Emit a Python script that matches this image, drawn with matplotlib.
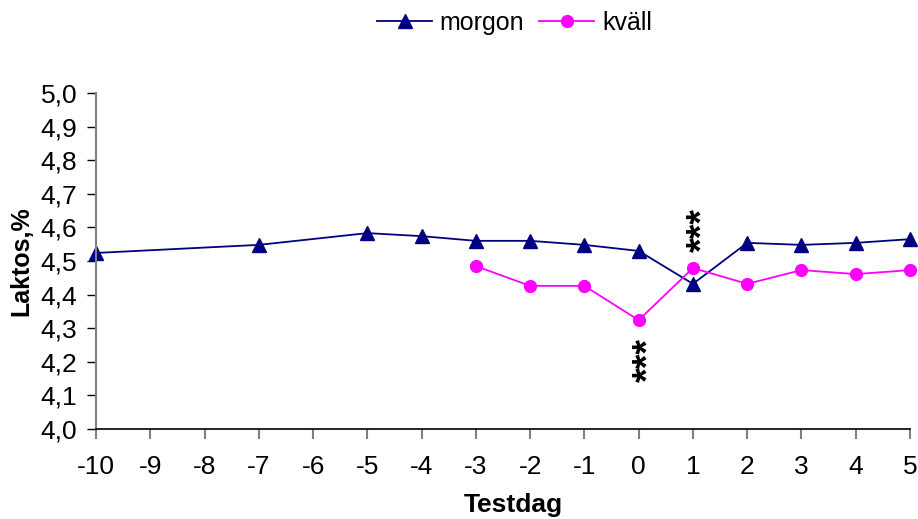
import matplotlib.pyplot as plt
from matplotlib.ticker import FuncFormatter

plt.rcParams["font.family"] = ["Liberation Sans", "DejaVu Sans"]
plt.rcParams["axes.unicode_minus"] = False

days_morgon = [-10, -7, -5, -4, -3, -2, -1, 0, 1, 2, 3, 4, 5]
morgon = [4.524, 4.548, 4.583, 4.574, 4.56, 4.56, 4.548, 4.53, 4.432, 4.554, 4.548, 4.554, 4.565]
days_kvall = [-3, -2, -1, 0, 1, 2, 3, 4, 5]
kvall = [4.485, 4.426, 4.426, 4.324, 4.479, 4.432, 4.473, 4.461, 4.473]

# significance marks: (day, y-centre)
stars = [(0, 4.205), (1, 4.592)]


def main():
    fig = plt.figure(figsize=(9.18, 5.19), dpi=100)
    ax = fig.add_axes([0.1046, 0.1734, 0.8867, 0.6474])

    ax.plot(days_morgon, morgon, color="#000080", marker="^", markersize=9.5,
            linewidth=1.3, label="morgon", clip_on=False)
    ax.plot(days_kvall, kvall, color="#FF00FF", marker="o", markersize=8.5,
            linewidth=1.3, label="kväll", clip_on=False)

    # glyph sits high in its line box, so nudge right to centre on the day
    for d, y in stars:
        ax.text(d + 0.19, y, "***", rotation=90, ha="center", va="center",
                fontsize=27, fontweight="bold")

    ax.set_xlim(-10, 5)
    ax.set_ylim(4.0, 5.0)
    ax.set_xticks(range(-10, 6))
    ax.set_yticks([4.0 + i * 0.1 for i in range(11)])
    ax.yaxis.set_major_formatter(FuncFormatter(lambda v, p: f"{v:.1f}".replace(".", ",")))

    for s in ["top", "right"]:
        ax.spines[s].set_visible(False)
    ax.spines["left"].set_color("#808080")
    ax.spines["left"].set_linewidth(1.5)
    ax.spines["bottom"].set_color("black")
    ax.spines["bottom"].set_linewidth(1.2)

    ax.tick_params(axis="y", direction="out", length=6.5, width=1, color="black",
                   labelsize=19, pad=7)
    ax.tick_params(axis="x", direction="out", length=7, width=1.5, color="#808080",
                   labelsize=19, pad=12)

    ax.set_xlabel("Testdag", fontsize=19, fontweight="bold", labelpad=10)
    ax.xaxis.label.set_x(0.513)
    ax.set_ylabel("Laktos,%", fontsize=18, fontweight="bold", labelpad=5)

    fig.legend(loc="upper center", bbox_to_anchor=(0.5605, 1.022), ncol=2,
               frameon=False, fontsize=18, handlelength=2.2, columnspacing=0.6,
               handletextpad=0.3)

    fig.savefig("out.png", dpi=100)
    plt.close(fig)


if __name__ == "__main__":
    main()
